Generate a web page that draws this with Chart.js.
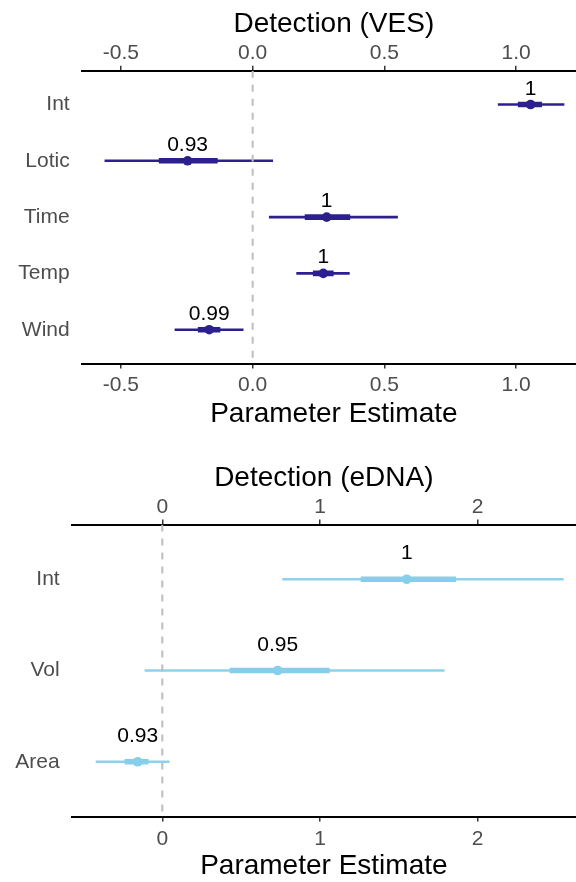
<!DOCTYPE html>
<html><head><meta charset="utf-8">
<script src="https://cdn.jsdelivr.net/npm/chart.js@4.4.0/dist/chart.umd.min.js"></script>
<style>
html,body{margin:0;padding:0;background:#fff;overflow:hidden;width:576px;height:882px;position:relative;}
canvas{position:absolute;left:0;}
#c1{top:0;} #c2{top:441px;}
</style></head><body>
<canvas id="c1" width="586" height="441"></canvas>
<canvas id="c2" width="576" height="441"></canvas>
<script>
// ---------- Detection (VES) ----------
const vesCategories = ['Int', 'Lotic', 'Time', 'Temp', 'Wind'];
const vesEstimate   = [1.055, -0.247, 0.281, 0.268, -0.165];
const vesLow95      = [0.932, -0.561, 0.063, 0.167, -0.295];
const vesHigh95     = [1.182, 0.076, 0.550, 0.367, -0.036];
const vesLow50      = [1.008, -0.355, 0.199, 0.230, -0.207];
const vesHigh50     = [1.097, -0.134, 0.369, 0.306, -0.124];
const vesProb       = ['1', '0.93', '1', '1', '0.99'];
const vesTicks      = [-0.5, 0.0, 0.5, 1.0];
const vesTickLabels = ['-0.5', '0.0', '0.5', '1.0'];
const vesRange      = [-0.649, 1.2654];

// ---------- Detection (eDNA) ----------
const ednaCategories = ['Int', 'Vol', 'Area'];
const ednaEstimate   = [1.55, 0.732, -0.156];
const ednaLow95      = [0.763, -0.11, -0.42];
const ednaHigh95     = [2.543, 1.788, 0.044];
const ednaLow50      = [1.26, 0.429, -0.237];
const ednaHigh50     = [1.86, 1.059, -0.089];
const ednaProb       = ['1', '0.95', '0.93'];
const ednaTicks      = [0, 1, 2];
const ednaTickLabels = ['0', '1', '2'];
const ednaRange      = [-0.5745, 2.6233];

const refValue = 0;
const FONT = "'Liberation Sans', Arial, Helvetica, sans-serif";
Chart.defaults.font.family = FONT;

function buildChart(id, d, L) {
  const n = d.cats.length;
  const idx = d.cats.map((_, i) => i + 1);
  const yMin = 0.4, yMax = n + 0.6;
  const thin = idx.map((v, i) => ({ y: v, x: [d.lo95[i], d.hi95[i]] }));
  const thick = idx.map((v, i) => ({ y: v, x: [d.lo50[i], d.hi50[i]] }));
  const pts = idx.map((v, i) => ({ x: d.est[i], y: v }));
  const zero = [{ x: refValue, y: yMin }, { x: refValue, y: yMax }];

  const labelPlugin = {
    id: 'probLabels',
    afterDatasetsDraw(chart) {
      const { ctx } = chart;
      const xs = chart.scales.x, ys = chart.scales.y;
      ctx.save();
      ctx.font = '21px ' + FONT;
      ctx.fillStyle = '#000';
      ctx.textAlign = 'center';
      ctx.textBaseline = 'middle';
      d.probs.forEach((t, i) => {
        ctx.fillText(t, xs.getPixelForValue(d.est[i]), ys.getPixelForValue(idx[i] - 0.28));
      });
      ctx.restore();
    }
  };

  const xCommon = (pos) => ({
    type: 'linear', position: pos, min: d.range[0], max: d.range[1], offset: false,
    afterBuildTicks: s => { s.ticks = d.ticks.map(v => ({ value: v })); },
    grid: { display: true, drawOnChartArea: false, drawTicks: true, tickLength: 5, color: '#333', lineWidth: 1.5 },
    border: { display: true, color: '#000', width: 2 },
    ticks: {
      color: '#4D4D4D', font: { family: FONT, size: 21 }, maxRotation: 0, autoSkip: false,
      callback: (v, i) => d.tickLabels[i]
    }
  });

  const xBottom = xCommon('bottom');
  xBottom.ticks.padding = L.bottomTickPad;
  xBottom.afterFit = s => { s.height = L.bottomH; };
  xBottom.title = { display: true, text: 'Parameter Estimate', color: '#000',
    font: { family: FONT, size: 28, lineHeight: L.bottomTitleLH }, padding: { top: 0, bottom: L.bottomTitlePad } };

  const xTop = xCommon('top');
  xTop.ticks.padding = L.topTickPad;
  xTop.afterFit = s => { s.height = L.topH; };
  xTop.title = { display: true, text: d.title, color: '#000',
    font: { family: FONT, size: 28 }, padding: { top: L.topTitlePad, bottom: 0 } };

  return new Chart(document.getElementById(id), {
    type: 'scatter',
    data: {
      datasets: [
        { type: 'bar', indexAxis: 'y', data: thin, backgroundColor: d.thinColor, barThickness: 2,
          grouped: false, borderWidth: 0, order: 3 },
        { type: 'bar', indexAxis: 'y', data: thick, backgroundColor: d.color, barThickness: 5,
          grouped: false, borderWidth: 0, order: 2 },
        { type: 'scatter', data: pts, pointRadius: 4.8, pointBackgroundColor: d.color,
          pointBorderWidth: 0, order: 1 },
        { type: 'line', data: zero, borderColor: '#BDBDBD', borderWidth: 2, borderDash: [7, 7],
          pointRadius: 0, fill: false, order: 0 }
      ]
    },
    options: {
      responsive: false, animation: false, devicePixelRatio: 1,
      layout: { padding: 0, autoPadding: false },
      plugins: { legend: { display: false }, tooltip: { enabled: false } },
      scales: {
        x: xBottom,
        x2: xTop,
        y: {
          type: 'linear', position: 'left', min: yMin, max: yMax, reverse: true, offset: false,
          afterBuildTicks: s => { s.ticks = idx.map(v => ({ value: v })); },
          afterFit: s => { s.width = L.leftWidth; },
          grid: { display: false, drawTicks: false, offset: false },
          border: { display: false },
          ticks: { padding: 12, color: '#4D4D4D', font: { family: FONT, size: 21 }, autoSkip: false,
            callback: v => d.cats[Math.round(v) - 1] }
        }
      }
    },
    plugins: [labelPlugin]
  });
}

buildChart('c1', {
  cats: vesCategories, est: vesEstimate, lo95: vesLow95, hi95: vesHigh95, lo50: vesLow50, hi50: vesHigh50,
  probs: vesProb, ticks: vesTicks, tickLabels: vesTickLabels, range: vesRange,
  title: 'Detection (VES)', color: '#2C1F8F', thinColor: '#2C1F8F'
}, { leftWidth: 81.7, topH: 70.7, topTitlePad: 7.2, topTickPad: 0, bottomH: 77.5, bottomTickPad: 3.9,
     bottomTitleLH: 1.2, bottomTitlePad: 10.2 });

buildChart('c2', {
  cats: ednaCategories, est: ednaEstimate, lo95: ednaLow95, hi95: ednaHigh95, lo50: ednaLow50, hi50: ednaHigh50,
  probs: ednaProb, ticks: ednaTicks, tickLabels: ednaTickLabels, range: ednaRange,
  title: 'Detection (eDNA)', color: '#87CEEB', thinColor: '#8DD2EC'
}, { leftWidth: 71.7, topH: 83.5, topTitlePad: 20.2, topTickPad: 0, bottomH: 65.5, bottomTickPad: 4.9,
     bottomTitleLH: 1.0, bottomTitlePad: 2 });
</script>
</body></html>
